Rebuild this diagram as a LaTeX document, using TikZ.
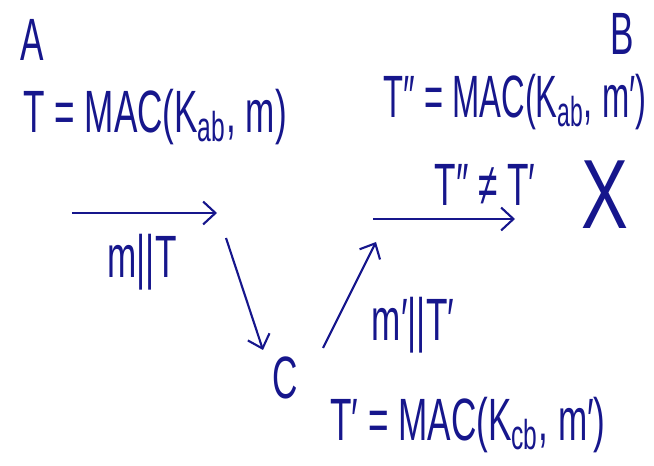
\documentclass[tikz,border=0pt]{standalone}
\usepackage{fontspec}
\setmainfont{Liberation Sans}
\usepackage{graphicx}
\usetikzlibrary{arrows.meta}

\definecolor{ink}{RGB}{22,22,140}
\newcommand{\tallink}[1]{\scalebox{1}[1.7]{#1}}

\begin{document}
\begin{tikzpicture}[x=0.02cm, y=-0.02cm,
    every node/.style={text=ink, font=\fontsize{20}{24}\selectfont, inner sep=0pt},
    msg/.style={draw=ink, line width=1.2pt, -{Straight Barb[length=7pt, width=13pt]}}]
  \useasboundingbox (0,0) rectangle (654,466);
  % parties
  \node (A) at (32,40) {\tallink{A}};
  \node (B) at (622,34) {\tallink{B}};
  \node (C) at (285,378) {\tallink{C}};
  % tags
  \node (tagA) at (155,117) {\tallink{T = MAC(K\textsubscript{ab}, m)}};
  \node (tagB) at (515,102) {\scalebox{0.93}[1.7]{T″ = MAC(K\textsubscript{ab}, m′)}};
  \node (tagC) at (468,425) {\tallink{T′ = MAC(K\textsubscript{cb}, m′)}};
  \node (check) at (485,185) {\tallink{T″ ≠ T′}};
  \node (reject) at (605,195) {\scalebox{2}[2.8]{X}};
  % messages
  \node (sent) at (142,262) {\tallink{m||T}};
  \node (forged) at (413,325) {\tallink{m′||T′}};
  \coordinate (a1) at (72,213);
  \coordinate (a2) at (217,213);
  \coordinate (c1) at (226,238);
  \coordinate (c2) at (263,350);
  \coordinate (c3) at (323,348);
  \coordinate (c4) at (376,242);
  \coordinate (b1) at (373,219);
  \coordinate (b2) at (515,219);
  \draw[msg] (a1) -- (a2);
  \draw[msg] (c1) -- (c2);
  \draw[msg] (c3) -- (c4);
  \draw[msg] (b1) -- (b2);
\end{tikzpicture}
\end{document}
